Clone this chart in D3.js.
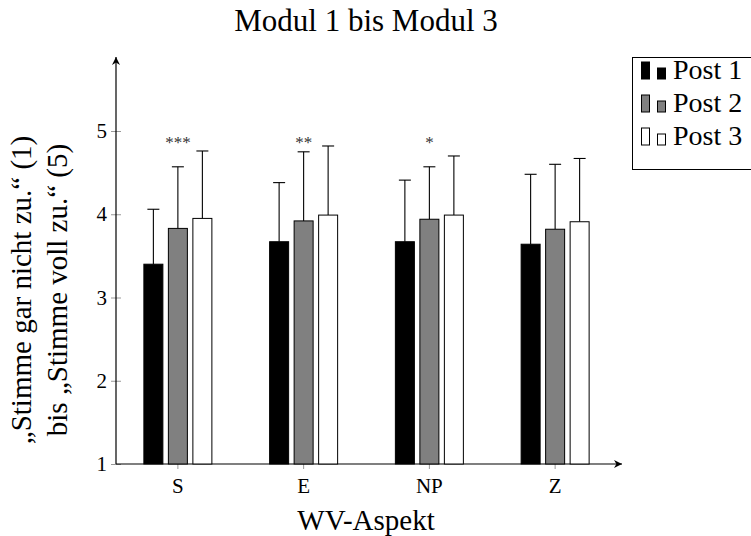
<!DOCTYPE html>
<html><head><meta charset="utf-8">
<script src="https://cdn.jsdelivr.net/npm/d3@7"></script>
<style>body{margin:0;background:#fff}svg{display:block}</style>
</head><body><svg id="c" width="751" height="536"></svg>
<script>
const categories = ["S", "E", "NP", "Z"];
const seriesNames = ["Post 1", "Post 2", "Post 3"];
const means = [
  [3.40, 3.67, 3.67, 3.64],
  [3.83, 3.92, 3.94, 3.82],
  [3.95, 3.99, 3.99, 3.91]
];
const upperErr = [
  [4.06, 4.38, 4.41, 4.48],
  [4.57, 4.75, 4.57, 4.60],
  [4.76, 4.82, 4.70, 4.67]
];
const stars = ["***", "**", "*", ""];
const yTicks = [1, 2, 3, 4, 5];
const fills = ["#000000", "#808080", "#ffffff"];

const FONT = "'Liberation Serif', 'Times New Roman', serif";
const svg = d3.select("#c");
const x0 = d3.scaleBand().domain(categories).range([115, 618]).padding(0);
const x1 = d3.scalePoint().domain(seriesNames).range([-24.5, 24.5]);
const y = d3.scaleLinear().domain([1, 5]).range([464, 131]);
const bw = 19;
const cx = c => x0(c) + x0.bandwidth() / 2;

function txt(sel) { return sel.attr("font-family", FONT).style("font-family", FONT).attr("fill", "#000"); }

// title
txt(svg.append("text")).attr("x", 366).attr("y", 31).attr("text-anchor", "middle")
  .style("font-size", "31px").text("Modul 1 bis Modul 3");

// y ticks
const yAxis = svg.append("g").attr("transform", "translate(116,0)")
  .call(d3.axisLeft(y).tickValues(yTicks).tickFormat(d3.format("d")).tickSizeInner(5).tickSizeOuter(0).tickPadding(4));
yAxis.attr("font-family", FONT);
yAxis.select(".domain").remove();
yAxis.selectAll(".tick line").attr("x2", 5).attr("x1", -5).attr("stroke", "#999");
txt(yAxis.selectAll(".tick text")).style("font-size", "21px");

// x ticks
const xAxis = svg.append("g").attr("transform", "translate(0,464)")
  .call(d3.axisBottom(x0).tickSizeInner(5).tickSizeOuter(0).tickPadding(9));
xAxis.attr("font-family", FONT);
xAxis.select(".domain").remove();
xAxis.selectAll(".tick line").attr("y1", -5).attr("y2", 5).attr("stroke", "#999");
txt(xAxis.selectAll(".tick text")).style("font-size", "21px");

// axes lines with arrows
const defs = svg.append("defs");
defs.append("marker").attr("id", "arr").attr("viewBox", "0 0 10 10").attr("refX", 10).attr("refY", 5)
  .attr("markerWidth", 8).attr("markerHeight", 8).attr("markerUnits", "userSpaceOnUse").attr("orient", "auto")
  .append("path").attr("d", "M0,0 L10,5 L0,10 L3,5 Z").attr("fill", "#000");
svg.append("line").attr("x1", 116).attr("y1", 464).attr("x2", 116).attr("y2", 57)
  .attr("stroke", "#000").attr("stroke-width", 1.2).attr("marker-end", "url(#arr)");
svg.append("line").attr("x1", 116).attr("y1", 464).attr("x2", 622).attr("y2", 464)
  .attr("stroke", "#000").attr("stroke-width", 1.2).attr("marker-end", "url(#arr)");

// bars
seriesNames.forEach((s, si) => {
  const g = svg.append("g");
  const data = categories.map((c, ci) => ({c, v: means[si][ci], e: upperErr[si][ci]}));
  g.selectAll("line.err").data(data).enter().append("line")
    .attr("x1", d => cx(d.c) + x1(s)).attr("x2", d => cx(d.c) + x1(s))
    .attr("y1", d => y(d.v)).attr("y2", d => y(d.e)).attr("stroke", "#000").attr("stroke-width", 1.1);
  g.selectAll("line.cap").data(data).enter().append("line")
    .attr("x1", d => cx(d.c) + x1(s) - 6).attr("x2", d => cx(d.c) + x1(s) + 6)
    .attr("y1", d => y(d.e)).attr("y2", d => y(d.e)).attr("stroke", "#000").attr("stroke-width", 1.1);
  g.selectAll("rect").data(data).enter().append("rect")
    .attr("x", d => cx(d.c) + x1(s) - bw / 2).attr("width", bw)
    .attr("y", d => y(d.v)).attr("height", d => y(1) - y(d.v))
    .attr("fill", fills[si]).attr("stroke", "#000").attr("stroke-width", 1);
});

// significance stars
txt(svg.append("g").selectAll("text").data(categories.map((c, i) => ({c, s: stars[i]}))).enter().append("text"))
  .attr("x", d => cx(d.c) + x1(seriesNames[1])).attr("y", 148).attr("text-anchor", "middle")
  .style("font-size", "17px").attr("fill", "#333").text(d => d.s);

// axis labels
txt(svg.append("text")).attr("x", 366).attr("y", 530).attr("text-anchor", "middle")
  .style("font-size", "29px").text("WV-Aspekt");
const yl = svg.append("g").attr("transform", "translate(0,290) rotate(-90)");
txt(yl.append("text")).attr("x", 0).attr("y", 31).attr("text-anchor", "middle").style("font-size", "29px")
  .text("\u201EStimme gar nicht zu.\u201C (1)");
txt(yl.append("text")).attr("x", 0).attr("y", 67).attr("text-anchor", "middle").style("font-size", "29px")
  .text("bis \u201EStimme voll zu.\u201C (5)");

// legend
const lg = svg.append("g");
lg.append("rect").attr("x", 632.5).attr("y", 57.5).attr("width", 130).attr("height", 112)
  .attr("fill", "#fff").attr("stroke", "#000").attr("stroke-width", 1);
seriesNames.forEach((s, i) => {
  const b = 79 + i * 33;
  lg.append("rect").attr("x", 641.5).attr("y", b - 17).attr("width", 8).attr("height", 17)
    .attr("fill", fills[i]).attr("stroke", "#000").attr("stroke-width", 1);
  lg.append("rect").attr("x", 657.5).attr("y", b - 11).attr("width", 8).attr("height", 11)
    .attr("fill", fills[i]).attr("stroke", "#000").attr("stroke-width", 1);
  txt(lg.append("text")).attr("x", 673).attr("y", b).style("font-size", "28px").text(s);
});
</script></body></html>
